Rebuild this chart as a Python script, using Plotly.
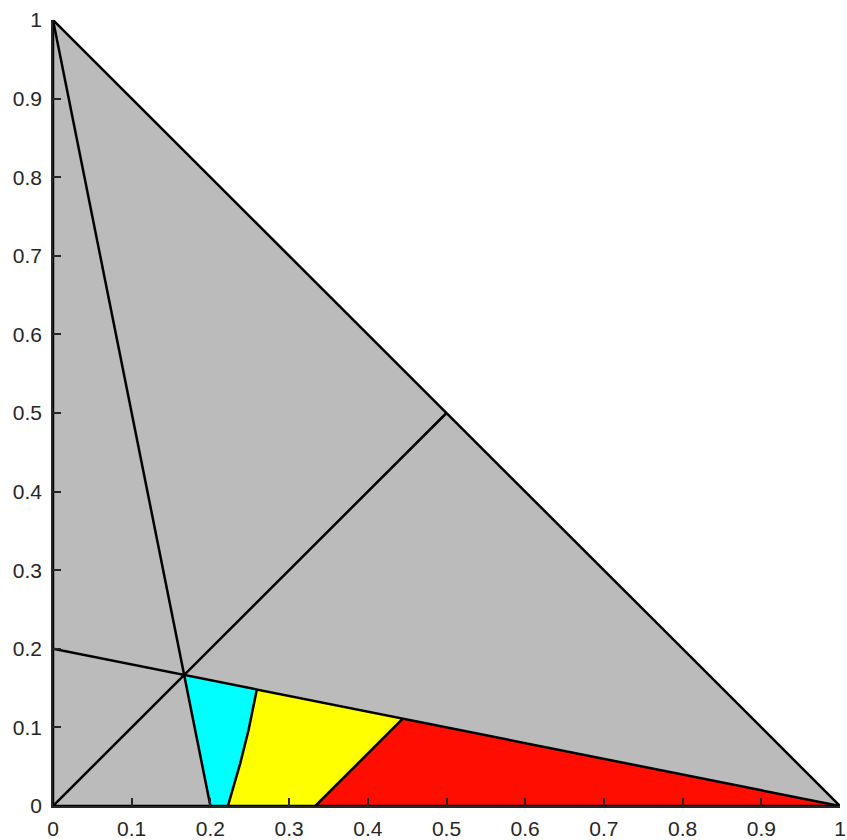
import plotly.graph_objects as go

# Simplex outline (x1 + x2 <= 1)
simplex_x = [0, 1, 0, 0]
simplex_y = [0, 0, 1, 0]

# Dividing lines through the centre point (1/6, 1/6)
line_a_x = [0, 0.2]          # from (0,1) down to (0.2,0)
line_a_y = [1, 0]
line_b_x = [0, 1]            # from (0,0.2) to (1,0)
line_b_y = [0.2, 0]
line_c_x = [0, 0.5]          # diagonal from origin to hypotenuse
line_c_y = [0, 0.5]

# Boundary between yellow and red regions
line_d_x = [1 / 3, 4 / 9]
line_d_y = [0, 1 / 9]

# Curved boundary between cyan and yellow regions (bottom to top)
curve_x = [2 / 9, 0.2294, 0.2379, 0.2485, 0.2590]
curve_y = [0, 0.0246, 0.0543, 0.0967, 0.1482]

centre = (1 / 6, 1 / 6)

# Region polygons
cyan_x = [0.2, centre[0]] + curve_x[::-1] + [0.2]
cyan_y = [0, centre[1]] + curve_y[::-1] + [0]
yellow_x = curve_x + [line_d_x[1], line_d_x[0], curve_x[0]]
yellow_y = curve_y + [line_d_y[1], line_d_y[0], curve_y[0]]
red_x = [line_d_x[0], line_d_x[1], 1, line_d_x[0]]
red_y = [line_d_y[0], line_d_y[1], 0, line_d_y[0]]

tick_vals = [0, 0.1, 0.2, 0.3, 0.4, 0.5, 0.6, 0.7, 0.8, 0.9, 1]
tick_text = ["0", "0.1", "0.2", "0.3", "0.4", "0.5", "0.6", "0.7", "0.8", "0.9", "1"]

GRAY = "#bbbbbb"
LW = 2.5

fig = go.Figure()

def area(xs, ys, color):
    fig.add_trace(go.Scatter(x=xs, y=ys, mode="lines", fill="toself",
                             fillcolor=color, line=dict(width=0, color=color),
                             hoverinfo="skip", showlegend=False))

def edge(xs, ys):
    fig.add_trace(go.Scatter(x=xs, y=ys, mode="lines",
                             line=dict(width=LW, color="black"),
                             hoverinfo="skip", showlegend=False))

area(simplex_x, simplex_y, GRAY)
area(cyan_x, cyan_y, "#00ffff")
area(yellow_x, yellow_y, "#ffff00")
area(red_x, red_y, "#ff0d00")

edge(simplex_x, simplex_y)
edge(line_a_x, line_a_y)
edge(line_b_x, line_b_y)
edge(line_c_x, line_c_y)
edge(line_d_x, line_d_y)
edge(curve_x, curve_y)

axis_common = dict(
    range=[0, 1], tickvals=tick_vals, ticktext=tick_text,
    showgrid=False, zeroline=False, showline=True, mirror=False,
    linecolor="#262626", linewidth=1.5,
    ticks="inside", ticklen=8, tickwidth=1.5, tickcolor="#262626",
    tickfont=dict(family="Liberation Sans, Arial, sans-serif", size=21, color="#262626"),
    fixedrange=True, automargin=False,
)

fig.update_layout(
    width=847, height=840,
    margin=dict(l=53, r=7, t=20, b=34),
    paper_bgcolor="white", plot_bgcolor="white",
    xaxis=dict(**axis_common, ticklabelstandoff=3),
    yaxis=dict(**axis_common, ticklabelstandoff=5),
    showlegend=False,
)

fig.write_html("out.html")
